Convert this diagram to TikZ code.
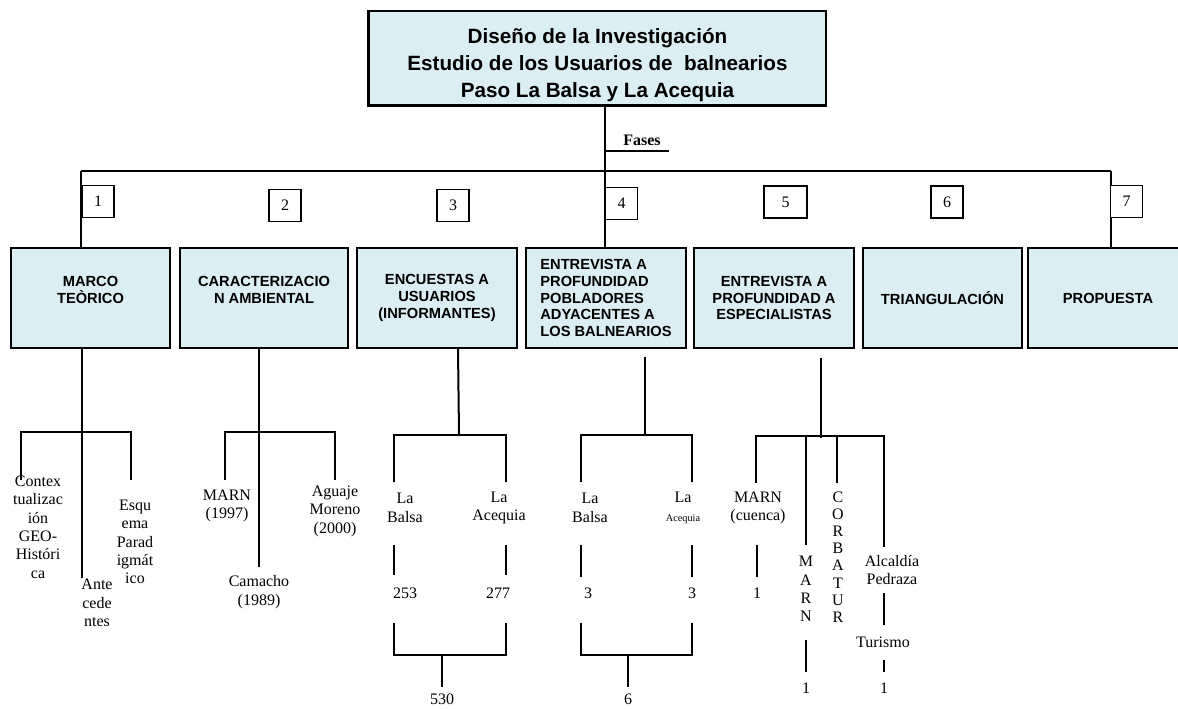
\documentclass[tikz,border=0pt]{standalone}
\usepackage{fontspec}
\setmainfont{Liberation Serif}
\setsansfont{Liberation Sans}
\definecolor{boxfill}{RGB}{219,238,243}
\begin{document}
\begin{tikzpicture}[x=0.75pt,y=-0.75pt,
  titlebox/.style={draw=black, line width=0.8pt, fill=boxfill, align=center,
    minimum width=342.75pt, minimum height=70.5pt, inner sep=0pt,
    font=\sffamily\bfseries\fontsize{15.5}{20}\selectfont},
  phase/.style={draw=black, line width=1.5pt, fill=boxfill, align=center,
    minimum height=75pt, minimum width=120pt, inner sep=0pt,
    font=\sffamily\bfseries\fontsize{11}{12.6}\selectfont},
  numbox/.style={draw=black, line width=0.9pt, fill=white, inner sep=0pt,
    minimum width=24pt, minimum height=24pt, font=\fontsize{12}{13.8}\selectfont},
  lbl/.style={align=center, inner sep=0pt, font=\fontsize{12}{13.8}\selectfont},
  upline/.style={line width=1pt},
  conn/.style={line width=1.5pt},
]
\useasboundingbox (0,0) rectangle (1178,708);
\clip (0,0) rectangle (1178,708);

% title
\node[titlebox] (title) at (597.5,58) {\rule{0pt}{22pt}Diseño de la Investigación\\Estudio de los Usuarios de\ \ balnearios\\Paso La Balsa y La Acequia};
\draw[line width=2pt] (title.north west) -- (title.south west) -- (title.south east);

% phase boxes
\node[phase, minimum width=119.25pt] (box1) at (90.5,298) {MARCO\\TEÒRICO\\\mbox{}};
\node[phase, minimum width=126pt] (box2) at (264,298) {CARACTERIZACIO\\N AMBIENTAL\\\mbox{}};
\node[phase] (box3) at (437,298) {ENCUESTAS A\\USUARIOS\\(INFORMANTES)};
\node[phase, align=left] (box4) at (606,298) {ENTREVISTA A\\PROFUNDIDAD\\POBLADORES\\ADYACENTES A\\LOS BALNEARIOS};
\node[phase] (box5) at (774,298) {ENTREVISTA A\\PROFUNDIDAD A\\ESPECIALISTAS};
\node[phase, minimum width=119.25pt] (box6) at (942.5,298) {TRIANGULACIÓN};
\node[phase] (box7) at (1108,298) {PROPUESTA};

% upper connectors
\coordinate (hub) at (605,171);
\coordinate (hL) at (81,171);
\coordinate (hR) at (1111,171);
\coordinate (fasesR) at (669,151);
\draw[upline] (title.south -| hub) -- (box4.north -| hub);
\draw[upline] (hL) -- (hR);
\draw[upline] (hL) -- (box1.north -| hL);
\draw[upline] (hR) -- (box7.north -| hR);
\draw[upline] (fasesR -| hub) -- (fasesR);
\node[font=\bfseries\fontsize{12}{13.8}\selectfont, inner sep=0pt] (fases) at (642,140) {Fases};

% number boxes
\node[numbox] (n1) at (98,201.5) {1};
\node[numbox] (n2) at (285,205.5) {2};
\node[numbox] (n3) at (453,205.5) {3};
\node[numbox] (n4) at (621.5,203.5) {4};
\node[numbox, minimum width=32.25pt] (n5) at (785.5,202) {5};
\node[numbox] (n6) at (947,202) {6};
\node[numbox] (n7) at (1126.5,201.5) {7};

% ---- tree 1
\coordinate (j1) at (82,432);
\coordinate (j1L) at (21,432);
\coordinate (j1R) at (131,432);
\coordinate (e1L) at (21,480);
\coordinate (e1R) at (131,480);
\coordinate (e1C) at (82,578);
\draw[conn] (box1.south -| j1) -- (e1C);
\draw[conn] (e1L) -- (j1L) -- (j1R) -- (e1R);
\node[lbl] (ctx) at (38,527) {Contex\\tualizac\\ión\\GEO-\\Históri\\ca};
\node[lbl] (ante) at (97,603) {Ante\\cede\\ntes};
\node[lbl] (esq) at (135,542) {Esqu\\ema\\Parad\\igmát\\ico};

% ---- tree 2
\coordinate (j2) at (259,432);
\coordinate (j2L) at (225,432);
\coordinate (j2R) at (335,432);
\coordinate (e2L) at (225,480);
\coordinate (e2R) at (335,480);
\coordinate (e2C) at (259,567);
\draw[conn] (box2.south -| j2) -- (e2C);
\draw[conn] (e2L) -- (j2L) -- (j2R) -- (e2R);
\node[lbl] (marn97) at (227,506) {MARN\\(1997)};
\node[lbl] (agua) at (335,511) {Aguaje\\Moreno\\(2000)};
\node[lbl] (cam) at (259,592) {Camacho\\(1989)};

% ---- tree 3
\coordinate (s3) at (458,348);
\coordinate (j3) at (459,435);
\coordinate (j3L) at (394,435);
\coordinate (j3R) at (506,435);
\coordinate (e3L) at (394,482);
\coordinate (e3R) at (506,482);
\draw[conn] (s3) -- (j3);
\draw[conn] (e3L) -- (j3L) -- (j3R) -- (e3R);
\node[lbl] (lb1) at (405,508) {La\\Balsa};
\node[lbl] (la1) at (499,508) {La\\Acequia};
\coordinate (v3a) at (394,545); \coordinate (w3a) at (394,575);
\coordinate (v3b) at (506,545); \coordinate (w3b) at (506,575);
\draw[conn] (v3a) -- (w3a);
\draw[conn] (v3b) -- (w3b);
\node[lbl] (n253) at (405,593) {253};
\node[lbl] (n277) at (498,593) {277};
\coordinate (k3a) at (394,623); \coordinate (k3b) at (506,623);
\coordinate (m3a) at (394,655); \coordinate (m3b) at (506,655);
\coordinate (m3c) at (442,655); \coordinate (m3d) at (442,687);
\draw[conn] (k3a) -- (m3a) -- (m3b) -- (k3b);
\draw[conn] (m3c) -- (m3d);
\node[lbl] (n530) at (442,699) {530};

% ---- tree 4
\coordinate (s4) at (645,357);
\coordinate (j4) at (645,435);
\coordinate (j4L) at (581,435);
\coordinate (j4R) at (692,435);
\coordinate (e4L) at (581,482);
\coordinate (e4R) at (692,482);
\draw[conn] (s4) -- (j4);
\draw[conn] (e4L) -- (j4L) -- (j4R) -- (e4R);
\node[lbl] (lb2) at (590,508) {La\\Balsa};
\node[lbl] (la2) at (683,508) {La\\{\fontsize{7.7}{9}\selectfont Acequia}};
\coordinate (v4a) at (581,545); \coordinate (w4a) at (581,577);
\coordinate (v4b) at (692,545); \coordinate (w4b) at (692,577);
\draw[conn] (v4a) -- (w4a);
\draw[conn] (v4b) -- (w4b);
\node[lbl] (n3a) at (588,593) {3};
\node[lbl] (n3b) at (692,593) {3};
\coordinate (k4a) at (581,623); \coordinate (k4b) at (692,623);
\coordinate (m4a) at (581,655); \coordinate (m4b) at (692,655);
\coordinate (m4c) at (628,655); \coordinate (m4d) at (628,687);
\draw[conn] (k4a) -- (m4a) -- (m4b) -- (k4b);
\draw[conn] (m4c) -- (m4d);
\node[lbl] (n6t) at (628,699) {6};

% ---- tree 5
\coordinate (s5) at (821,358);
\coordinate (j5) at (821,438);
\coordinate (j5L) at (756,436);
\coordinate (j5R) at (884,436);
\coordinate (e5a) at (756,483);
\coordinate (t5b) at (806,436); \coordinate (e5b) at (806,545);
\coordinate (t5c) at (837,436); \coordinate (e5c) at (837,483);
\coordinate (e5d) at (884,547);
\draw[conn] (s5) -- (j5);
\draw[conn] (e5a) -- (j5L) -- (j5R) -- (e5d);
\draw[conn] (t5b) -- (e5b);
\draw[conn] (t5c) -- (e5c);
\node[lbl] (marnc) at (758,508) {MARN\\(cuenca)};
\coordinate (v5a) at (757,545); \coordinate (w5a) at (757,577);
\draw[conn] (v5a) -- (w5a);
\node[lbl] (n1a) at (757,593) {1};
\node[lbl] (marnv) at (806,589) {M\\A\\R\\N};
\coordinate (v5b) at (806,640); \coordinate (w5b) at (806,672);
\draw[conn] (v5b) -- (w5b);
\node[lbl] (n1b) at (806,688) {1};
\node[lbl, font=\fontsize{12}{12.9}\selectfont] (corb) at (838,557) {C\\O\\R\\B\\A\\T\\U\\R};
\node[lbl] (alc) at (892,570) {Alcaldía\\Pedraza};
\coordinate (v5c) at (884,593); \coordinate (w5c) at (884,625);
\draw[conn] (v5c) -- (w5c);
\node[lbl] (tur) at (883,642) {Turismo};
\coordinate (v5d) at (884,660); \coordinate (w5d) at (884,672);
\draw[conn] (v5d) -- (w5d);
\node[lbl] (n1c) at (884,688) {1};
\end{tikzpicture}
\end{document}
